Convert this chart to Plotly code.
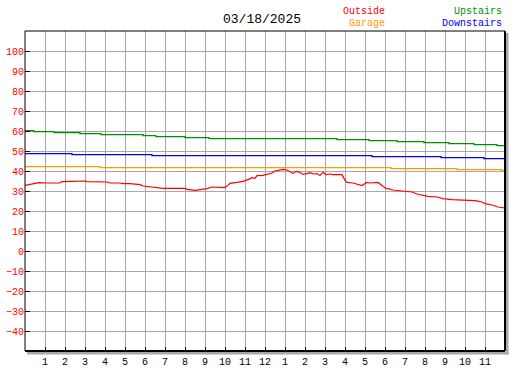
import plotly.graph_objects as go

# ---- data (hours since midnight, values in deg F) ----
outside_t = [0.00, 0.25, 0.60, 0.70, 1.10, 1.75, 1.85, 2.25, 2.35, 3.00, 3.10, 4.10, 4.25, 4.75, 4.90,
             5.25, 5.75, 5.90, 6.40, 6.90, 8.00, 8.10, 8.50, 8.85, 9.10, 9.35, 9.65, 10.00, 10.15, 10.25,
             10.60, 10.90, 11.15, 11.35, 11.50, 11.60, 11.90, 12.35, 12.50, 12.65, 12.90, 13.10, 13.25,
             13.40, 13.50, 13.60, 13.75, 13.90, 14.10, 14.25, 14.40, 14.60, 14.75, 14.90, 15.05, 15.25,
             15.40, 15.85, 16.00, 16.10, 16.40, 16.65, 16.85, 17.00, 17.10, 17.25, 17.65, 17.85, 18.00,
             18.15, 18.40, 18.85, 19.35, 19.60, 19.85, 20.15, 20.60, 20.90, 21.35, 21.90, 22.50, 22.85,
             23.00, 23.35, 23.65, 24.00]
outside_v = [32.8, 33.2, 33.7, 34.2, 34.0, 34.0, 34.7, 34.5, 34.8, 35.0, 34.7, 34.5, 34.0, 34.0, 33.7,
             33.7, 33.2, 32.5, 31.8, 31.3, 31.3, 30.8, 30.3, 30.7, 31.2, 32.0, 31.8, 31.7, 32.8, 33.8,
             34.3, 34.8, 35.7, 36.7, 36.3, 37.7, 37.8, 39.0, 40.0, 40.3, 40.8, 40.5, 39.5,
             38.8, 39.5, 39.8, 39.2, 38.3, 38.7, 39.2, 38.5, 38.7, 37.8, 39.4, 38.2, 38.5,
             38.2, 38.2, 35.3, 34.3, 34.0, 33.3, 32.7, 33.7, 34.3, 34.0, 34.3, 32.8, 31.5,
             31.2, 30.5, 30.0, 29.5, 28.5, 27.8, 27.3, 27.0, 26.2, 25.7, 25.3, 25.2, 24.5,
             23.7, 23.0, 22.0, 21.5]

upstairs_t = [0.0, 0.45, 1.45, 2.75, 3.8, 5.9, 6.55, 8.0, 9.2, 15.6, 17.2, 18.6, 19.95, 21.2, 22.45, 23.6, 24.0]
upstairs_v = [60.2, 59.7, 59.2, 58.7, 58.2, 57.7, 57.2, 56.7, 56.2, 55.7, 55.2, 54.7, 54.2, 53.7, 53.2, 52.7, 52.7]

downstairs_t = [0.0, 2.35, 6.35, 17.35, 20.8, 22.95, 24.0]
downstairs_v = [48.7, 48.2, 47.7, 47.2, 46.7, 46.2, 46.2]

garage_t = [0.0, 3.75, 18.3, 21.6, 23.85, 24.0]
garage_v = [42.2, 41.7, 41.2, 40.7, 40.2, 40.2]

hour_ticks = list(range(1, 24))
hour_labels = [str(h if h <= 12 else h - 12) for h in hour_ticks]
temp_ticks = list(range(-40, 101, 10))

title_text = "03/18/2025"

C_OUT = "#ff0000"
C_GAR = "#ff9c00"
C_UP = "#009000"
C_DOWN = "#0000ff"

fig = go.Figure()
fig.add_trace(go.Scatter(x=garage_t, y=garage_v, mode="lines", line=dict(color=C_GAR, width=1.3, shape="hv")))
fig.add_trace(go.Scatter(x=downstairs_t, y=downstairs_v, mode="lines", line=dict(color=C_DOWN, width=1.3, shape="hv")))
fig.add_trace(go.Scatter(x=upstairs_t, y=upstairs_v, mode="lines", line=dict(color=C_UP, width=1.3, shape="hv")))
fig.add_trace(go.Scatter(x=outside_t, y=outside_v, mode="lines", line=dict(color=C_OUT, width=1.2)))

W, H = 480.0, 320.0
FONT = "Liberation Mono"

shapes = [
    # shadow
    dict(type="rect", xref="paper", yref="paper", x0=1 + 1 / W, x1=1 + 3.5 / W, y0=-3.5 / H, y1=1 - 2 / H,
         fillcolor="#a8a8a8", line=dict(width=0), layer="above"),
    dict(type="rect", xref="paper", yref="paper", x0=2 / W, x1=1 + 3.5 / W, y0=-3.5 / H, y1=-1 / H,
         fillcolor="#a8a8a8", line=dict(width=0), layer="above"),
    # borders
    dict(type="line", xref="paper", yref="paper", x0=0, x1=1, y0=1, y1=1, line=dict(color="black", width=1), layer="above"),
    dict(type="line", xref="paper", yref="paper", x0=0, x1=0, y0=0, y1=1, line=dict(color="black", width=1), layer="above"),
    dict(type="line", xref="paper", yref="paper", x0=1, x1=1, y0=0, y1=1, line=dict(color="black", width=2), layer="above"),
    dict(type="line", xref="paper", yref="paper", x0=0, x1=1, y0=0, y1=0, line=dict(color="black", width=2), layer="above"),
]


def px_x(px):
    return (px - 25) / W


def px_y(py):
    return (351 - py) / H


annotations = [
    dict(text=title_text, x=px_x(262), y=px_y(19.5), xref="paper", yref="paper", showarrow=False,
         xanchor="center", yanchor="middle", font=dict(family=FONT, size=13, color="black")),
    dict(text="Outside", x=px_x(387), y=px_y(11), xref="paper", yref="paper", showarrow=False,
         xanchor="right", yanchor="middle", font=dict(family=FONT, size=10, color=C_OUT)),
    dict(text="Garage", x=px_x(387), y=px_y(23), xref="paper", yref="paper", showarrow=False,
         xanchor="right", yanchor="middle", font=dict(family=FONT, size=10, color=C_GAR)),
    dict(text="Upstairs", x=px_x(504), y=px_y(11), xref="paper", yref="paper", showarrow=False,
         xanchor="right", yanchor="middle", font=dict(family=FONT, size=10, color=C_UP)),
    dict(text="Downstairs", x=px_x(504), y=px_y(23), xref="paper", yref="paper", showarrow=False,
         xanchor="right", yanchor="middle", font=dict(family=FONT, size=10, color=C_DOWN)),
]

fig.update_layout(
    width=527, height=370,
    margin=dict(l=25, r=22, t=31, b=19, pad=0),
    plot_bgcolor="white", paper_bgcolor="white",
    showlegend=False,
    font=dict(family=FONT, size=10),
    shapes=shapes, annotations=annotations,
    xaxis=dict(range=[0, 24], tickmode="array", tickvals=hour_ticks, ticktext=hour_labels,
               ticks="inside", ticklen=4, tickwidth=1, tickcolor="black", automargin=False,
               ticklabelstandoff=3,
               showgrid=True, gridcolor="#a8a8a8", gridwidth=1, zeroline=False, showline=False,
               tickfont=dict(family=FONT, size=10, color="black"), fixedrange=True),
    yaxis=dict(range=[-50, 110], tickmode="array", tickvals=temp_ticks, automargin=False,
               ticks="inside", ticklen=5, tickwidth=1, tickcolor="black",
               showgrid=True, gridcolor="#a8a8a8", gridwidth=1, zeroline=False, showline=False,
               tickfont=dict(family=FONT, size=10, color="red"), fixedrange=True),
)

fig.write_html("out.html", config={"displayModeBar": False},
               post_script="document.body.style.margin='0px';document.body.style.overflow='hidden';")
